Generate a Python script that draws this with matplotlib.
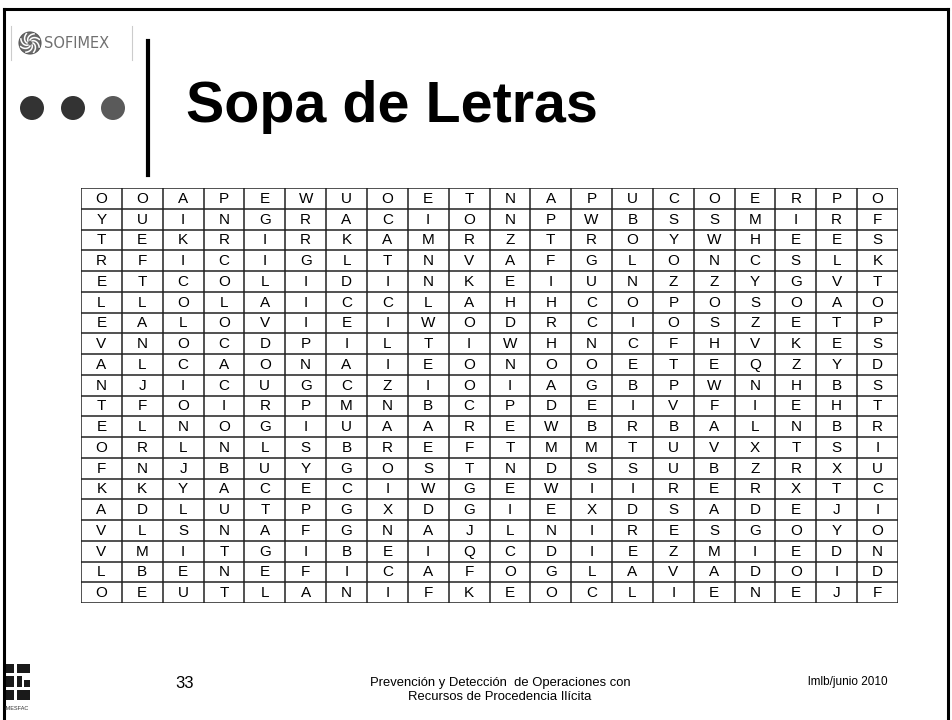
import numpy as np
import matplotlib
matplotlib.use('Agg')
import matplotlib.pyplot as plt
from matplotlib.patches import Circle, Rectangle

plt.rcParams['font.family'] = ['Liberation Sans', 'DejaVu Sans']

# word search rows (20 x 20)
rows = [
    'OOAPEWUOETNAPUCOERPO',
    'YUINGRACIONPWBSSMIRF',
    'TEKRIRKAMRZTROYWHEES',
    'RFICIGLTNVAFGLONCSLK',
    'ETCOLIDINKEIUNZZYGVT',
    'LLOLAICCLAHHCOPOSOAO',
    'EALOVIEIWODRCIOSZETP',
    'VNOCDPILTIWHNCFHVKES',
    'ALCAONAIEONOOETEQZYD',
    'NJICUGCZIOIAGBPWNHBS',
    'TFOIRPMNBCPDEIVFIEHT',
    'ELNOGIUAAREWBRBALNBR',
    'ORLNLSBREFTMMTUVXTSI',
    'FNJBUYGOSTNDSSUBZRXU',
    'KKYACECIWGEWIIRERXTC',
    'ADLUTPGXDGIEXDSADEJI',
    'VLSNAFGNAJLNIRESGOYO',
    'VMITGIBEIQCDIEZMIEDN',
    'LBENEFICAFOGLAVADOID',
    'OEUTLANIFKEOCLIENEJF',
]

title = 'Sopa de Letras'
slide_no = '33'
footer_center = 'Prevención y Detección  de Operaciones con\nRecursos de Procedencia Ilícita'
footer_right = 'lmlb/junio 2010'

W, H = 952, 720
fig = plt.figure(figsize=(W / 100, H / 100), dpi=100)
fig.patch.set_facecolor('white')

# page overlay in pixel coordinates
ax = fig.add_axes([0, 0, 1, 1])
ax.set_xlim(0, W)
ax.set_ylim(H, 0)
ax.axis('off')

# slide frame
ax.plot([4, 4], [9, 720], color='black', lw=2.2)
ax.plot([4, 948], [9, 9], color='black', lw=2.2)
ax.plot([948, 948], [9, 720], color='black', lw=2.2)

# SOFIMEX logo
ax.plot([11, 11], [26, 60], color='#cccccc', lw=0.8)
ax.plot([132, 132], [26, 60], color='#cccccc', lw=0.8)
ax.add_patch(Circle((30, 43), 11, facecolor='#6a6a6a', edgecolor='#555555', lw=0.8))
for a in np.linspace(0, 2 * np.pi, 9)[:-1]:
    t = np.linspace(0, 1, 20)
    xs = 30 + (3 + 7 * t) * np.cos(a + 1.2 * t)
    ys = 43 + (3 + 7 * t) * np.sin(a + 1.2 * t)
    ax.plot(xs, ys, color='white', lw=1.1)
ax.text(44, 43, 'SOFIMEX', fontsize=10.5, color='#707070', va='center', ha='left',
        family=['DejaVu Sans'])

# three dots
for cx, col in zip([32, 73, 113], ['#333333', '#333333', '#5a5a5a']):
    ax.add_patch(Circle((cx, 108), 12, facecolor=col, edgecolor='none'))

# vertical divider
ax.plot([148, 148], [41, 175], color='black', lw=3)

ax.text(186, 122, title, fontsize=41.3, fontweight='bold', ha='left', va='baseline')

# grid
gx = fig.add_axes([81 / W, 1 - 603 / H, 817 / W, 415 / H])
nr, nc = len(rows), len(rows[0])
gx.set_xlim(0, nc)
gx.set_ylim(nr, 0)
gx.axis('off')
gx.hlines(np.arange(nr + 1), 0, nc, color='#222222', lw=1.1)
gx.vlines(np.arange(nc + 1), 0, nr, color='#222222', lw=1.1)
for i, r in enumerate(rows):
    for j, ch in enumerate(r):
        gx.text(j + 0.5, i + 0.52, ch, fontsize=11, ha='center', va='center')

# footer
narrow = ['Liberation Sans Narrow', 'Liberation Sans', 'DejaVu Sans']
ax.text(185, 683, slide_no, fontsize=12, ha='center', va='center', family=narrow)
ax.text(500, 690, footer_center, fontsize=9.4, ha='center', va='center',
        family=narrow, linespacing=1.2)
ax.text(848, 682, footer_right, fontsize=8.5, ha='center', va='center', family=narrow)

# IMESFAC logo
for x0, y0, w, h in [(5, 664, 9, 9), (17, 664, 13, 9), (5, 676, 9, 11),
                     (17, 676, 5, 11), (24, 680, 6, 7), (5, 690, 9, 10),
                     (17, 690, 13, 10)]:
    ax.add_patch(Rectangle((x0, y0), w, h, facecolor='#1a1a1a', edgecolor='none'))
ax.text(17, 708, 'IMESFAC', fontsize=4, ha='center', va='center', color='#333333',
        family=narrow)

fig.savefig('out.png', dpi=100)
